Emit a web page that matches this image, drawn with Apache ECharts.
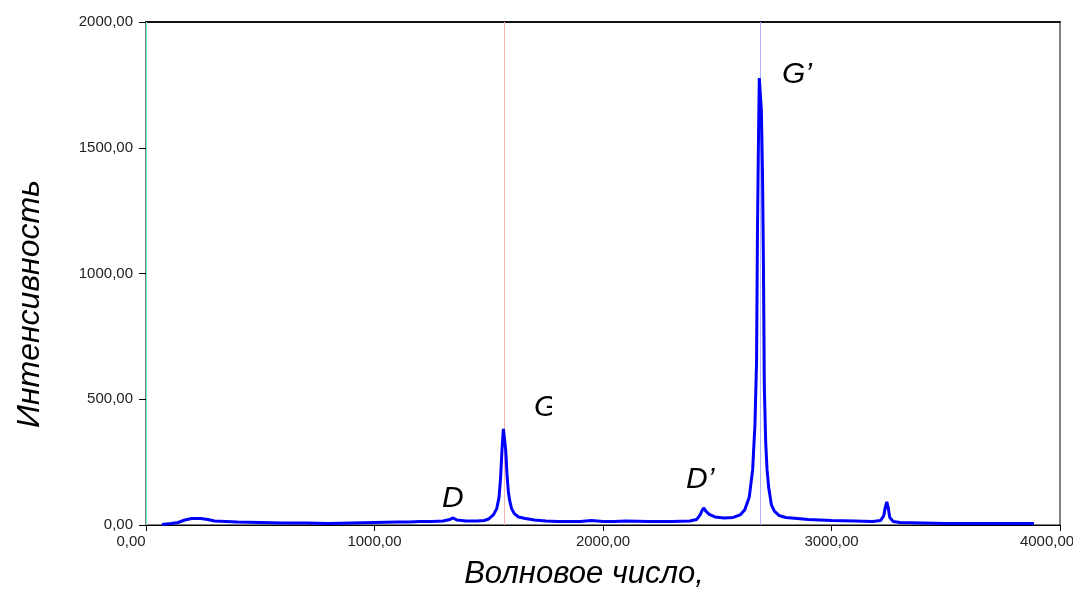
<!DOCTYPE html>
<html>
<head>
<meta charset="utf-8">
<script src="https://cdn.jsdelivr.net/npm/echarts@6/dist/echarts.min.js"></script>
<style>
  html, body { margin: 0; padding: 0; background: #fff; }
  #chart { width: 1073px; height: 595px; }
</style>
</head>
<body>
<div id="chart"></div>
<script>
const COLORS = {
  spectrum: "#0000ff",
  axis: "#000000",
  text: "#222222",
  cursorStart: "#6ff0d2",
  cursorG: "#f6b4b4",
  cursorG2: "#b0b0ff",
};

// wavenumber, cm-1
const wavenumber = [
  70, 110, 140, 170, 200, 240, 270, 300, 350, 400, 500, 600, 700, 800, 900, 1000,
  1100, 1150, 1200, 1250, 1300, 1330, 1345, 1360, 1400, 1450, 1480, 1500, 1520, 1535,
  1545, 1552, 1558, 1564, 1570, 1574, 1580, 1586, 1592, 1600, 1612, 1630, 1660, 1700,
  1750, 1800, 1900, 1950, 2000, 2050, 2100, 2200, 2300, 2380, 2410, 2425, 2435, 2442,
  2450, 2465, 2490, 2530, 2570, 2600, 2620, 2640, 2655, 2665, 2672, 2676, 2680, 2684,
  2690, 2693, 2698, 2702, 2706, 2712, 2718, 2725, 2737, 2750, 2770, 2800, 2850, 2900,
  3000, 3100, 3180, 3215, 3228, 3236, 3242, 3248, 3255, 3270, 3300, 3400, 3500, 3600,
  3700, 3800, 3886,
];

// intensity
const intensity = [
  2, 6, 10, 20, 26, 26, 22, 16, 14, 12, 10, 8, 8, 6, 8, 10,
  12, 12, 14, 14, 16, 22, 28, 20, 16, 16, 18, 24, 40, 65,
  110, 190, 300, 382, 380, 300, 200, 130, 95, 65, 45, 32, 26, 20,
  16, 14, 14, 18, 14, 14, 16, 14, 14, 16, 22, 40, 60, 68,
  55, 42, 32, 28, 30, 40, 60, 110, 220, 400, 650, 1170, 1500, 1777,
  1770, 1650, 1400, 1050, 550, 330, 220, 150, 80, 55, 38, 30, 26, 22,
  18, 16, 14, 18, 35, 72, 92, 70, 30, 14, 10, 8, 6, 6,
  6, 6, 6,
];

// cursor lines
const cursors = [
  { x: 0, color: COLORS.cursorStart },
  { x: 1570, color: COLORS.cursorG },
  { x: 2689, color: COLORS.cursorG2 },
];

const peakLabels = [
  { text: "D", left: 442, top: 484 },
  { text: "D\u2019", left: 686, top: 465 },
  { text: "G\u2019", left: 782, top: 60 },
];

function formatTick(value) {
  return Number(value).toFixed(2).replace(".", ",");
}

const TICK_FONT = { color: COLORS.text, fontSize: 15, fontFamily: "Liberation Sans, Arial, sans-serif" };
const NOTE_FONT = { fill: "#000", fontSize: 30, fontStyle: "italic", fontFamily: "Liberation Sans, Arial, sans-serif" };
const TITLE_FONT = { ...NOTE_FONT, fontSize: 32 };

const chart = echarts.init(document.getElementById("chart"));

chart.setOption({
  animation: false,
  backgroundColor: "#fff",
  grid: {
    left: 146,
    right: 13,
    top: 22,
    bottom: 70,
    outerBoundsMode: "none",
    containLabel: false,
    show: true,
    borderColor: COLORS.axis,
    borderWidth: 1,
  },
  xAxis: [
    {
      type: "value",
      min: 0,
      max: 4000,
      interval: 1000,
      axisLine: { show: true, lineStyle: { color: COLORS.axis, width: 1 } },
      axisTick: { show: true, length: 6, lineStyle: { color: COLORS.axis } },
      splitLine: { show: false },
      axisLabel: {
        ...TICK_FONT,
        margin: 9,
        formatter: (v) => (v === 0 ? "{m|" + formatTick(v) + "}" : v === 4000 ? "{r|" + formatTick(v) + "}" : formatTick(v)),
        rich: {
          m: { ...TICK_FONT, padding: [0, 30, 0, 0] },
          r: { ...TICK_FONT, padding: [0, 26, 0, 0] },
        },
      },
    },
    {
      type: "value",
      position: "top",
      min: 0,
      max: 4000,
      axisLine: { show: true, lineStyle: { color: "#111", width: 2 } },
      axisTick: { show: false },
      axisLabel: { show: false },
      splitLine: { show: false },
    },
  ],
  yAxis: {
    type: "value",
    min: 0,
    max: 2000,
    interval: 500,
    axisLine: { show: true, lineStyle: { color: COLORS.axis } },
    axisTick: { show: true, length: 7, lineStyle: { color: COLORS.axis } },
    splitLine: { show: false },
    axisLabel: { ...TICK_FONT, margin: 13, formatter: formatTick },
  },
  series: [
    {
      type: "line",
      data: wavenumber.map((x, i) => [x, intensity[i]]),
      showSymbol: false,
      symbol: "none",
      lineStyle: { color: COLORS.spectrum, width: 3 },
      color: COLORS.spectrum,
      z: 3,
      markLine: {
        silent: true,
        symbol: "none",
        label: { show: false },
        z: 2,
        data: cursors.map((c) => ({ xAxis: c.x, lineStyle: { color: c.color, width: 1, type: "solid" } })),
      },
    },
  ],
  graphic: [
    ...peakLabels.map((p) => ({ type: "text", left: p.left, top: p.top, z: 10, style: { text: p.text, ...NOTE_FONT } })),
    { type: "text", left: 534, top: 393, z: 10, style: { text: "G", ...NOTE_FONT } },
    { type: "rect", shape: { x: 552, y: 390, width: 20, height: 36 }, z: 11, style: { fill: "#fff" } },
    {
      type: "text",
      x: 46,
      y: 304,
      rotation: Math.PI / 2,
      z: 10,
      style: { text: "Интенсивность", align: "center", verticalAlign: "bottom", ...TITLE_FONT },
    },
    {
      type: "text",
      x: 584,
      y: 574,
      z: 10,
      style: { text: "Волновое число,", align: "center", verticalAlign: "middle", ...NOTE_FONT, fontSize: 31 },
    },
  ],
});
</script>
</body>
</html>
